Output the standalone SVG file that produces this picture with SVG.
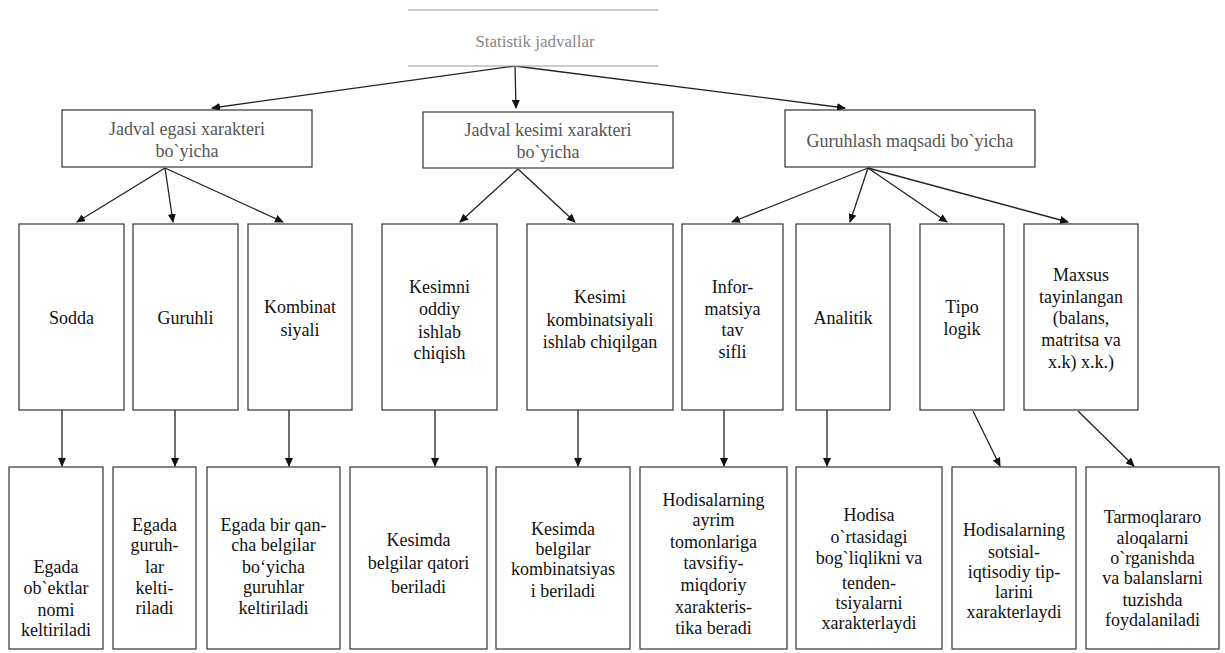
<svg xmlns="http://www.w3.org/2000/svg" width="1225" height="653" viewBox="0 0 1225 653">
<defs>
<marker id="ah" markerWidth="9" markerHeight="8" refX="8" refY="4" orient="auto" markerUnits="userSpaceOnUse">
<path d="M0,0 L9,4 L0,8 z" fill="#111"/>
</marker>
<style>
.bx{fill:#fff;stroke:#333;stroke-width:1.2}
text{font-family:'Liberation Serif','Tinos','DejaVu Serif',serif;font-size:18px;text-anchor:middle}
.t{fill:#111}
.t2{fill:#555}
.t1{font-size:17px;fill:#888}
.c{stroke:#222;stroke-width:1.3;fill:none;marker-end:url(#ah)}
.tl{stroke:#999;stroke-width:1.2}
</style>
</defs>
<rect width="1225" height="653" fill="#fff"/>

<g id="connectors">
<line class="c" x1="515" y1="66" x2="212" y2="108"/>
<line class="c" x1="515" y1="66" x2="516" y2="108"/>
<line class="c" x1="515" y1="66" x2="845" y2="108"/>
<line class="c" x1="165" y1="168" x2="77" y2="222"/>
<line class="c" x1="165" y1="168" x2="173" y2="222"/>
<line class="c" x1="165" y1="168" x2="283" y2="222"/>
<line class="c" x1="518" y1="169" x2="460" y2="222"/>
<line class="c" x1="518" y1="169" x2="575" y2="222"/>
<line class="c" x1="868" y1="168" x2="732" y2="222"/>
<line class="c" x1="868" y1="168" x2="850" y2="222"/>
<line class="c" x1="868" y1="168" x2="947" y2="222"/>
<line class="c" x1="868" y1="168" x2="1068" y2="222"/>
<line class="c" x1="62" y1="410" x2="62" y2="466"/>
<line class="c" x1="175" y1="410" x2="175" y2="466"/>
<line class="c" x1="289" y1="410" x2="289" y2="466"/>
<line class="c" x1="435" y1="410" x2="435" y2="466"/>
<line class="c" x1="578" y1="410" x2="578" y2="466"/>
<line class="c" x1="724" y1="410" x2="724" y2="466"/>
<line class="c" x1="827" y1="410" x2="827" y2="466"/>
<line class="c" x1="973" y1="411" x2="1000" y2="466"/>
<line class="c" x1="1078" y1="411" x2="1134" y2="466"/>
</g>

<g id="n-root">
<rect x="408" y="10" width="250" height="56" fill="#fff"/>
<line class="tl" x1="408" y1="10" x2="658" y2="10"/>
<line class="tl" x1="408" y1="66" x2="658" y2="66"/>
<text class="t1" x="535" y="47">Statistik jadvallar</text>
</g>

<g id="n-egasi">
<rect class="bx" x="62" y="110" width="250" height="57"/>
<text class="t2" x="187" y="135">Jadval egasi xarakteri</text>
<text class="t2" x="187" y="157">bo`yicha</text>
</g>
<g id="n-kesimi">
<rect class="bx" x="423" y="112" width="250" height="56"/>
<text class="t2" x="548" y="136">Jadval kesimi xarakteri</text>
<text class="t2" x="548" y="158">bo`yicha</text>
</g>
<g id="n-maqsad">
<rect class="bx" x="785" y="110" width="250" height="57"/>
<text class="t2" x="910" y="147">Guruhlash maqsadi bo`yicha</text>
</g>

<g id="n-sodda">
<rect class="bx" x="19" y="224" width="105" height="186"/>
<text class="t" x="71.5" y="324">Sodda</text>
</g>
<g id="n-guruhli">
<rect class="bx" x="133" y="224" width="105" height="186"/>
<text class="t" x="185.5" y="324">Guruhli</text>
</g>
<g id="n-kombinat">
<rect class="bx" x="248" y="224" width="104" height="186"/>
<text class="t" x="300" y="313">Kombinat</text>
<text class="t" x="300" y="336">siyali</text>
</g>
<g id="n-kesimni">
<rect class="bx" x="382" y="224" width="115" height="186"/>
<text class="t" x="439.5" y="293">Kesimni</text>
<text class="t" x="439.5" y="315">oddiy</text>
<text class="t" x="439.5" y="338">ishlab</text>
<text class="t" x="439.5" y="359">chiqish</text>
</g>
<g id="n-kesimikomb">
<rect class="bx" x="527" y="224" width="146" height="186"/>
<text class="t" x="600" y="303">Kesimi</text>
<text class="t" x="600" y="326">kombinatsiyali</text>
<text class="t" x="600" y="348">ishlab chiqilgan</text>
</g>
<g id="n-informatsiya">
<rect class="bx" x="682" y="224" width="101" height="186"/>
<text class="t" x="732.5" y="293">Infor-</text>
<text class="t" x="732.5" y="315">matsiya</text>
<text class="t" x="732.5" y="336">tav</text>
<text class="t" x="732.5" y="358">sifli</text>
</g>
<g id="n-analitik">
<rect class="bx" x="796" y="224" width="94" height="186"/>
<text class="t" x="843" y="324">Analitik</text>
</g>
<g id="n-tipologik">
<rect class="bx" x="920" y="224" width="84" height="186"/>
<text class="t" x="962" y="313">Tipo</text>
<text class="t" x="962" y="335">logik</text>
</g>
<g id="n-maxsus">
<rect class="bx" x="1024" y="224" width="114" height="186"/>
<text class="t" x="1081" y="281">Maxsus</text>
<text class="t" x="1081" y="303">tayinlangan</text>
<text class="t" x="1081" y="324">(balans,</text>
<text class="t" x="1081" y="346">matritsa va</text>
<text class="t" x="1081" y="368">x.k) x.k.)</text>
</g>

<g id="n-b1">
<rect class="bx" x="9" y="467" width="94" height="182"/>
<text class="t" x="56" y="573">Egada</text>
<text class="t" x="56" y="594">ob`ektlar</text>
<text class="t" x="56" y="616">nomi</text>
<text class="t" x="56" y="636">keltiriladi</text>
</g>
<g id="n-b2">
<rect class="bx" x="113" y="467" width="83" height="182"/>
<text class="t" x="154.5" y="531">Egada</text>
<text class="t" x="154.5" y="551">guruh-</text>
<text class="t" x="154.5" y="573">lar</text>
<text class="t" x="154.5" y="594">kelti-</text>
<text class="t" x="154.5" y="614">riladi</text>
</g>
<g id="n-b3">
<rect class="bx" x="207" y="467" width="133" height="182"/>
<text class="t" x="273.5" y="531">Egada bir qan-</text>
<text class="t" x="273.5" y="551">cha belgilar</text>
<text class="t" x="273.5" y="573">bo‘yicha</text>
<text class="t" x="273.5" y="593">guruhlar</text>
<text class="t" x="273.5" y="614">keltiriladi</text>
</g>
<g id="n-b4">
<rect class="bx" x="350" y="467" width="137" height="182"/>
<text class="t" x="418.5" y="546">Kesimda</text>
<text class="t" x="418.5" y="569">belgilar qatori</text>
<text class="t" x="418.5" y="593">beriladi</text>
</g>
<g id="n-b5">
<rect class="bx" x="496" y="467" width="134" height="182"/>
<text class="t" x="563" y="535">Kesimda</text>
<text class="t" x="563" y="555">belgilar</text>
<text class="t" x="563" y="575">kombinatsiyas</text>
<text class="t" x="563" y="597">i beriladi</text>
</g>
<g id="n-b6">
<rect class="bx" x="640" y="467" width="147" height="182"/>
<text class="t" x="713.5" y="506">Hodisalarning</text>
<text class="t" x="713.5" y="526">ayrim</text>
<text class="t" x="713.5" y="548">tomonlariga</text>
<text class="t" x="713.5" y="569">tavsifiy-</text>
<text class="t" x="713.5" y="591">miqdoriy</text>
<text class="t" x="713.5" y="613">xarakteris-</text>
<text class="t" x="713.5" y="634">tika beradi</text>
</g>
<g id="n-b7">
<rect class="bx" x="796" y="467" width="146" height="182"/>
<text class="t" x="869" y="521">Hodisa</text>
<text class="t" x="869" y="543">o`rtasidagi</text>
<text class="t" x="869" y="564">bog`liqlikni  va</text>
<text class="t" x="869" y="589">tenden-</text>
<text class="t" x="869" y="609">tsiyalarni</text>
<text class="t" x="869" y="629">xarakterlaydi</text>
</g>
<g id="n-b8">
<rect class="bx" x="952" y="467" width="124" height="182"/>
<text class="t" x="1014" y="536">Hodisalarning</text>
<text class="t" x="1014" y="558">sotsial-</text>
<text class="t" x="1014" y="578">iqtisodiy tip-</text>
<text class="t" x="1014" y="598">larini</text>
<text class="t" x="1014" y="618">xarakterlaydi</text>
</g>
<g id="n-b9">
<rect class="bx" x="1086" y="467" width="133" height="182"/>
<text class="t" x="1152.5" y="523">Tarmoqlararo</text>
<text class="t" x="1152.5" y="544">aloqalarni</text>
<text class="t" x="1152.5" y="564">o`rganishda</text>
<text class="t" x="1152.5" y="584">va balanslarni</text>
<text class="t" x="1152.5" y="606">tuzishda</text>
<text class="t" x="1152.5" y="626">foydalaniladi</text>
</g>
</svg>
